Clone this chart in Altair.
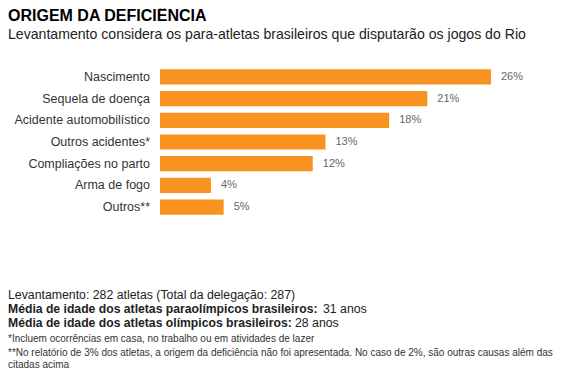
import altair as alt
import pandas as pd

categories = ["Nascimento", "Sequela de doença", "Acidente automobilístico",
              "Outros acidentes*", "Compliações no parto", "Arma de fogo", "Outros**"]
values = [26, 21, 18, 13, 12, 4, 5]
value_labels = ["26%", "21%", "18%", "13%", "12%", "4%", "5%"]

title_text = "ORIGEM DA DEFICIÊNCIA"
subtitle_text = "Levantamento considera os para-atletas brasileiros que disputarão os jogos do Rio"
footer1 = "Levantamento: 282 atletas (Total da delegação: 287)"
footer2_bold = "Média de idade dos atletas paraolímpicos brasileiros:"
footer2_reg = "31 anos"
footer3_bold = "Média de idade dos atletas olímpicos brasileiros:"
footer3_reg = "28 anos"
note1 = "*Incluem ocorrências em casa, no trabalho ou em atividades de lazer"
note2 = "**No relatório de 3% dos atletas, a origem da deficiência não foi apresentada. No caso de 2%, são outras causas além das"
note3 = "citadas acima"

df = pd.DataFrame({"cat": categories, "val": values, "lab": value_labels})

FONT = "Liberation Sans"

x_enc = alt.X("val:Q", scale=alt.Scale(domain=[0, 26], range=[152, 483]), axis=None)
y_enc = alt.Y("cat:N", sort=None, axis=None,
              scale=alt.Scale(range=[58, 210], paddingInner=0.3, paddingOuter=0.15))

base = alt.Chart(df)
bars = base.mark_bar(color="#F7931E").encode(x=x_enc, y=y_enc)
vals = base.mark_text(align="left", baseline="middle", dx=10, font=FONT,
                      fontSize=11, color="#666666").encode(x=x_enc, y=y_enc, text="lab:N")
cats = base.mark_text(align="right", baseline="middle", font=FONT,
                      fontSize=12.5, color="#333333").encode(x=alt.value(142), y=y_enc, text="cat:N")


def txt(s, x, y, size, bold=False, color="#222222"):
    return alt.Chart(pd.DataFrame({"t": [s]})).mark_text(
        align="left", baseline="alphabetic", font=FONT, fontSize=size,
        fontWeight="bold" if bold else "normal", color=color
    ).encode(x=alt.value(x), y=alt.value(y), text="t:N")


layers = [
    bars, vals, cats,
    txt(title_text, 0, 12.5, 16, True, "#000000"),
    txt(subtitle_text, 0, 31, 14.1, False, "#222222"),
    txt(footer1, 0, 291, 12.3),
    txt(footer2_bold, 0, 305, 12.2, True),
    txt(footer2_reg, 315, 305, 12.3),
    txt(footer3_bold, 0, 319, 12.2, True),
    txt(footer3_reg, 287, 319, 12.3),
    txt(note1, 0, 334, 10, False, "#333333"),
    txt(note2, 0, 348, 10, False, "#333333"),
    txt(note3, 0, 360, 10, False, "#333333"),
]

chart = alt.layer(*layers).properties(
    width=560, height=364, padding=0,
    autosize=alt.AutoSizeParams(type="none")
).configure_view(stroke=None)

chart.save("out.html", embed_options={"renderer": "svg", "actions": False})
